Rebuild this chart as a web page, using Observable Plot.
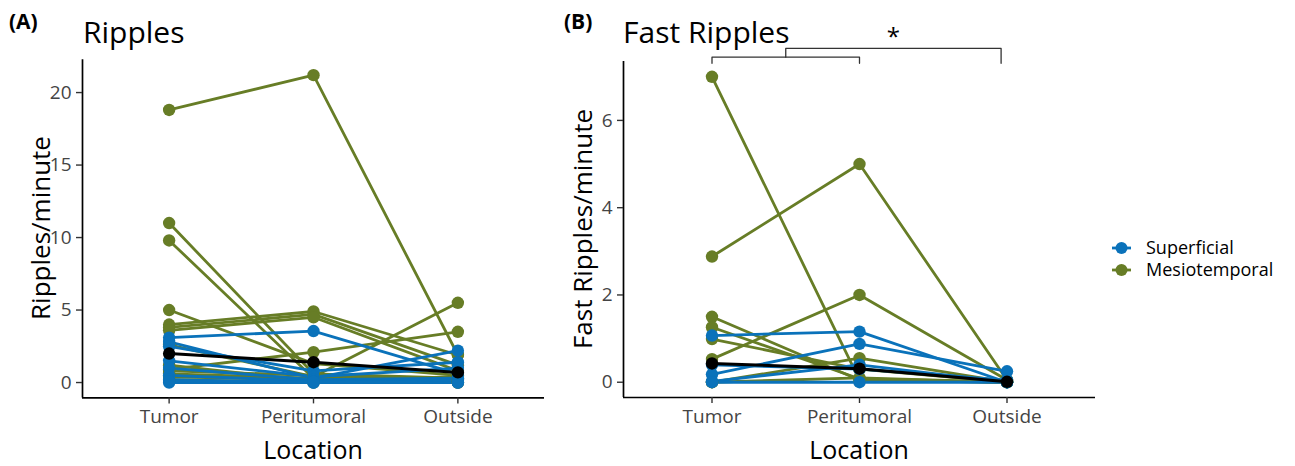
<!DOCTYPE html>
<html><head><meta charset="utf-8">
<script src="https://cdn.jsdelivr.net/npm/d3@7"></script>
<script src="https://cdn.jsdelivr.net/npm/@observablehq/plot@0.6"></script>
<style>
body{margin:0;background:#fff;}
#root{position:relative;width:1295px;height:466px;overflow:hidden;font-family:"Open Sans",sans-serif;}
#root svg{position:absolute;top:0;overflow:visible;}
</style></head><body><div id="root"></div>
<script>
const locations = ["Tumor", "Peritumoral", "Outside"];
const groups = ["Superficial", "Mesiotemporal"];
const groupColors = ["#0A72BA", "#677D26"];

// Ripples/minute per recording: [Tumor, Peritumoral, Outside]
const ripplesMesio = [
  [18.8, 21.2, 1.9], [11.0, 0.6, 0.3], [9.8, 0.3, 0.2], [5.0, 1.3, 0.5],
  [4.0, 4.9, 1.9], [3.8, 4.7, 1.2], [3.6, 4.5, 0.8], [2.6, 0.4, 5.5],
  [0.9, 2.1, 3.5], [0.8, 0.5, 0.2], [0.6, 0.3, 0.1], [0.4, 0.2, 0.0],
  [1.2, 0.1, 0.4], [0.2, 0.0, 0.0]
];
const ripplesSuperficial = [
  [3.1, 3.55, 0.6], [2.8, 0.3, 2.2], [2.5, 0.8, 1.4], [1.5, 0.4, 1.0],
  [1.0, 0.2, 0.3], [0.5, 0.1, 0.2], [0.2, 0.0, 0.1], [0.0, 0.0, 0.0], [0.1, 0.05, 0.0]
];
const ripplesMean = [2.0, 1.4, 0.7];
const ripplesTicks = [0, 5, 10, 15, 20];

// Fast Ripples/minute per recording
const fastMesio = [
  [7.0, 0.05, 0.0], [2.88, 5.0, 0.05], [0.53, 2.0, 0.05], [1.5, 0.05, 0.0],
  [1.26, 0.08, 0.0], [0.99, 0.3, 0.0], [0.0, 0.55, 0.0], [0.0, 0.1, 0.0]
];
const fastSuperficial = [
  [1.07, 1.16, 0.0], [0.18, 0.88, 0.25], [0.02, 0.4, 0.0], [0.0, 0.0, 0.0], [0.4, 0.3, 0.05]
];
const fastMean = [0.43, 0.31, 0.01];
const fastTicks = [0, 2, 4, 6];
const fastSignificance = "*";

const root = document.getElementById("root");
const FONT = '"Open Sans", sans-serif';

function panel({mesio, sup, mean, ticks, yMax, width, marginTop, marginBottom, extra = []}) {
  const rows = [];
  mesio.forEach((v, i) => v.forEach((y, j) => rows.push({id: "m" + i, group: "Mesiotemporal", x: j, y})));
  sup.forEach((v, i) => v.forEach((y, j) => rows.push({id: "s" + i, group: "Superficial", x: j, y})));
  const meanRows = mean.map((y, j) => ({x: j, y}));
  const pad = 0.05 * yMax;
  const yDomain = [-pad, yMax + pad];
  const xDomain = [-0.6, 2.6];
  const mRows = rows.filter(d => d.group === "Mesiotemporal");
  const sRows = rows.filter(d => d.group === "Superficial");
  return Plot.plot({
    width, height: 466, marginTop, marginBottom, marginLeft: 82, marginRight: 10,
    x: {domain: xDomain, axis: null},
    y: {domain: yDomain, axis: null},
    color: {domain: groups, range: groupColors},
    style: {fontFamily: FONT, fontSize: "19px", background: "transparent", overflow: "visible"},
    marks: [
      Plot.ruleX([xDomain[0]], {stroke: "black", strokeWidth: 1.7}),
      Plot.ruleY([yDomain[0]], {stroke: "black", strokeWidth: 1.7}),
      Plot.axisX({ticks: [0, 1, 2], tickFormat: i => locations[i], tickSize: 6, tickPadding: 6,
        fontSize: 19, fill: "#444", stroke: "#333", strokeWidth: 1.4, label: null}),
      Plot.axisY({ticks, tickSize: 6, tickPadding: 5, fontSize: 19, fill: "#444",
        stroke: "#333", strokeWidth: 1.4, label: null}),
      Plot.line(mRows, {x: "x", y: "y", z: "id", stroke: "group", strokeWidth: 2.8}),
      Plot.line(sRows, {x: "x", y: "y", z: "id", stroke: "group", strokeWidth: 2.8}),
      Plot.dot(mRows, {x: "x", y: "y", fill: "group", r: 6.2}),
      Plot.dot(sRows, {x: "x", y: "y", fill: "group", r: 6.2}),
      Plot.line(meanRows, {x: "x", y: "y", stroke: "black", strokeWidth: 3}),
      Plot.dot(meanRows, {x: "x", y: "y", fill: "black", r: 6.2}),
      ...extra(yDomain)
    ]
  });
}

const left = panel({mesio: ripplesMesio, sup: ripplesSuperficial, mean: ripplesMean,
  ticks: ripplesTicks, yMax: 21.2, width: 554, marginTop: 59.3, marginBottom: 68.6, extra: () => []});
left.style.left = "0px";
root.appendChild(left);

const right = panel({mesio: fastMesio, sup: fastSuperficial, mean: fastMean,
  ticks: fastTicks, yMax: 7, width: 564, marginTop: 61, marginBottom: 69,
  extra: (yd) => {
    const top = yd[1];
    const lo = top + 0.10, hi = top + 0.30, tip = top - 0.04;
    const brackets = [
      [[0, tip], [0, lo], [1, lo], [1, tip]],
      [[0.5, lo], [0.5, hi], [1.96, hi], [1.96, tip]]
    ];
    const pts = brackets.flatMap((b, k) => b.map(([x, y]) => ({k, x, y})));
    return [
      Plot.line(pts, {x: "x", y: "y", z: "k", stroke: "#333", strokeWidth: 1.3, curve: "linear"}),
      Plot.text([{x: 1.23, y: hi}], {x: "x", y: "y", text: () => fastSignificance, dy: -11,
        fontSize: 24, fill: "black"})
    ];
  }});
right.style.left = "541px";
root.appendChild(right);

// overlay text
const ov = d3.select(root).append("svg").attr("width", 1295).attr("height", 466)
  .style("left", "0px").style("font-family", FONT);
const T = (x, y, s, size, opts = {}) => {
  const t = ov.append("text").attr("x", x).attr("y", y).text(s).attr("font-size", size)
    .attr("fill", opts.fill || "black");
  if (opts.bold) t.attr("font-weight", "bold");
  if (opts.anchor) t.attr("text-anchor", opts.anchor);
  if (opts.rotate) t.attr("transform", `rotate(-90 ${x} ${y})`);
  return t;
};
T(9, 29, "(A)", 21, {bold: true});
T(83, 43, "Ripples", 30);
T(564, 29, "(B)", 21, {bold: true});
T(623, 43, "Fast Ripples", 30);
T(313, 459, "Location", 25, {anchor: "middle"});
T(859, 459, "Location", 25, {anchor: "middle"});
T(50, 228, "Ripples/minute", 26, {anchor: "middle", rotate: true});
T(592, 229, "Fast Ripples/minute", 26, {anchor: "middle", rotate: true});

// legend
groups.forEach((g, i) => {
  const y = 248 + i * 22;
  ov.append("line").attr("x1", 1112).attr("x2", 1131).attr("y1", y).attr("y2", y)
    .attr("stroke", groupColors[i]).attr("stroke-width", 2.8);
  ov.append("circle").attr("cx", 1121.5).attr("cy", y).attr("r", 6).attr("fill", groupColors[i]);
  T(1146, y + 6, g, 18);
});
</script></body></html>
